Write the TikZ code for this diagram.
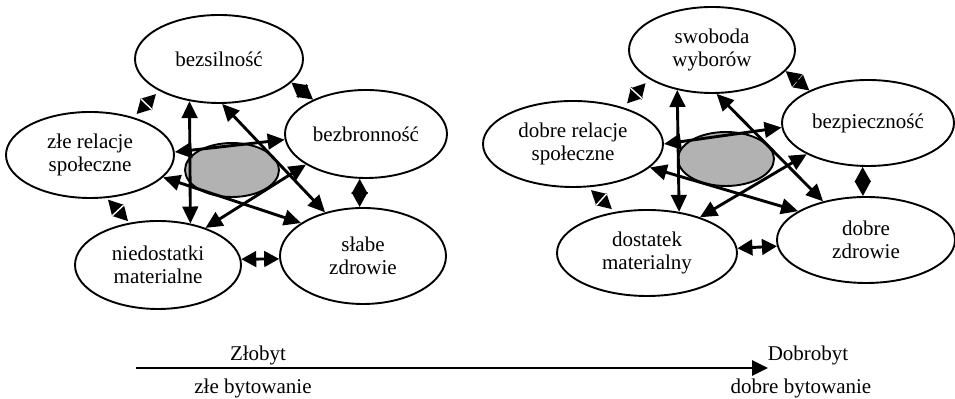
\documentclass[tikz,border=0pt]{standalone}
\usepackage{fontspec}
\setmainfont{Liberation Serif}
\usetikzlibrary{arrows.meta,shapes.geometric,calc}
\begin{document}
\begin{tikzpicture}[x=0.5pt,y=-0.5pt,
  oval/.style={ellipse,draw,line width=0.95pt,inner sep=0pt,align=center,
    font=\fontsize{10.5}{11.5}\selectfont},
  core/.style={ellipse,draw,line width=0.95pt,fill=black!30,inner sep=0pt},
  conn/.style={{Triangle[length=8.5pt,width=7.8pt]}-{Triangle[length=8.5pt,width=7.8pt]},line width=1.45pt},
  shortconn/.style={{Triangle[length=7.5pt,width=7.8pt]}-{Triangle[length=7.5pt,width=7.8pt]},line width=1.45pt},
  gap/.style={white,line width=0.7pt},
  lbl/.style={inner sep=0pt,font=\fontsize{10.5}{11.5}\selectfont}
]
\useasboundingbox (0,0) rectangle (955,399);

% ---------- left diagram ----------
\node[core, minimum width=47pt, minimum height=27pt] (G) at (232,170) {};
\node[oval, minimum width=84pt, minimum height=44pt] (A) at (219,59) {bezsilność};
\node[oval, minimum width=81pt, minimum height=44pt] (B) at (366,134) {bezbronność};
\node[oval, minimum width=83pt, minimum height=48pt] (C) at (363,256) {słabe\\zdrowie};
\node[oval, minimum width=83pt, minimum height=44pt] (D) at (158,265) {niedostatki\\materialne};
\node[oval, minimum width=84pt, minimum height=43pt] (E) at (90,155) {złe relacje\\społeczne};

\draw[shortconn,shorten <=2.2pt,shorten >=2.2pt] (A.208.7) -- (E.41.2);
\coordinate (m1) at ($(A.208.7)!0.5!(E.41.2)$);
\draw[gap] ($(m1)!3.9pt!90:(E.41.2)$) -- ($(m1)!3.9pt!-90:(E.41.2)$);
\draw[shortconn] (A.342) -- (B.147.8);
\draw[shortconn,shorten <=1pt,shorten >=1pt] (E.291.6) -- (D.124.6);
\coordinate (m2) at ($(E.291.6)!0.5!(D.124.6)$);
\draw[gap] ($(m2)!3.9pt!90:(D.124.6)$) -- ($(m2)!3.9pt!-90:(D.124.6)$);
\draw[shortconn] (D.4) -- (C.182);
\draw[shortconn] (B.262) -- (C.94);
\draw[conn] (A.235) -- (D.52);
\draw[conn] (E.2.1) -- (B.184.2);
\draw[conn] (A.274.8) -- (C.131.7);
\draw[conn] (E.343) -- (C.152.4);
\draw[conn] (D.38.9) -- (B.207.7);

% ---------- right diagram ----------
\node[core, minimum width=48pt, minimum height=27pt] (H) at (726,159) {};
\node[oval, minimum width=83pt, minimum height=43pt] (P) at (712,50) {swoboda\\wyborów};
\node[oval, minimum width=86pt, minimum height=43pt] (Q) at (868,123) {bezpieczność};
\node[oval, minimum width=89pt, minimum height=43pt] (R) at (866,240) {dobre\\zdrowie};
\node[oval, minimum width=90pt, minimum height=43pt] (S) at (647,253) {dostatek\\materialny};
\node[oval, minimum width=90pt, minimum height=43pt] (T) at (573,144) {dobre relacje\\społeczne};

\draw[shortconn,shorten <=2.7pt,shorten >=2.7pt] (P.205.5) -- (T.36.7);
\coordinate (m3) at ($(P.205.5)!0.5!(T.36.7)$);
\draw[gap] ($(m3)!3.9pt!90:(T.36.7)$) -- ($(m3)!3.9pt!-90:(T.36.7)$);
\draw[shortconn] (P.344) -- (Q.151.4);
\draw[shortconn,shorten <=2pt,shorten >=2pt] (T.289.2) -- (S.128.3);
\coordinate (m4) at ($(T.289.2)!0.5!(S.128.3)$);
\draw[gap] ($(m4)!3.9pt!90:(S.128.3)$) -- ($(m4)!3.9pt!-90:(S.128.3)$);
\draw[shortconn] (S.3.8) -- (R.184.4);
\draw[shortconn] (Q.263.5) -- (R.94);
\draw[conn] (P.229) -- (S.52);
\draw[conn] (T.0.6) -- (Q.183.3);
\draw[conn] (P.276) -- (R.138.5);
\draw[conn] (T.343.4) -- (R.157.6);
\draw[conn] (S.34.2) -- (Q.207.7);

% ---------- bottom axis ----------
\node[lbl] (zlobyt) at (258,355) {Złobyt};
\node[lbl] (zle) at (253,388) {złe bytowanie};
\node[lbl] (dobrobyt) at (808,355) {Dobrobyt};
\node[lbl] (dobre) at (801,388) {dobre bytowanie};
\coordinate (axstart) at (136,368);
\coordinate (axend) at (768,368);
\draw[-{Triangle[length=8pt,width=7.5pt]},line width=1.4pt] (axstart) -- (axend);
\end{tikzpicture}
\end{document}
